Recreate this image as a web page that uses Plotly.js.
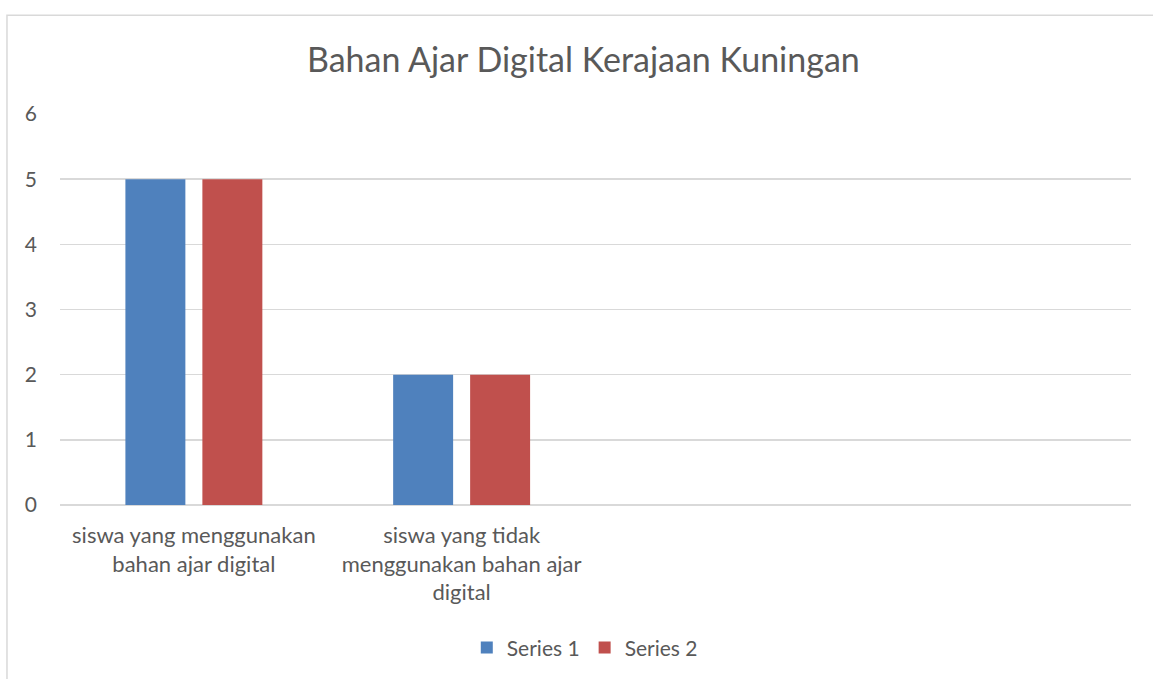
<!DOCTYPE html>
<html>
<head>
<meta charset="utf-8">
<script src="https://cdn.plot.ly/plotly-3.0.1.min.js"></script>
<style>html,body{margin:0;padding:0;background:#fff;}#chart{width:1153px;height:679px;}</style>
</head>
<body>
<div id="chart"></div>
<script>
const categories = ["siswa yang menggunakan<br>bahan ajar digital", "siswa yang tidak<br>menggunakan bahan ajar<br>digital"];
const categoryPositions = [0, 1];
const series1 = [5, 2];
const series2 = [5, 2];
const seriesNames = ["Series 1", "Series 2"];
const yTicks = [0, 1, 2, 3, 4, 5, 6];

const font = "Lato, 'Open Sans', sans-serif";
const traces = [
  {type: "bar", name: seriesNames[0], x: categoryPositions, y: series1, marker: {color: "#4f81bd"}, hoverinfo: "y"},
  {type: "bar", name: seriesNames[1], x: categoryPositions, y: series2, marker: {color: "#c0504d"}, hoverinfo: "y"}
];
const layout = {
  width: 1153, height: 679,
  margin: {l: 60, r: 22, t: 114, b: 173},
  paper_bgcolor: "#fff", plot_bgcolor: "#fff",
  font: {family: font, color: "#595959", size: 22},
  title: {text: "Bahan Ajar Digital Kerajaan Kuningan", font: {family: font, size: 34, color: "#595959"}, x: 0.506, xanchor: "center", y: 1 - 60/679, yanchor: "middle", yref: "container"},
  barmode: "group", bargap: 0.425, bargroupgap: 0.221,
  xaxis: {range: [-0.5, 3.5], tickvals: categoryPositions, ticktext: categories, showgrid: false, zeroline: false, showline: false, ticks: "", tickfont: {size: 22, color: "#595959"}, ticklabelstandoff: 15, fixedrange: true},
  yaxis: {range: [0, 6], tickvals: yTicks, showgrid: true, gridcolor: "#d9d9d9", gridwidth: 1.5, zeroline: true, zerolinecolor: "#d9d9d9", zerolinewidth: 1.5, showline: false, ticks: "", tickfont: {size: 21, color: "#595959"}, ticklabelstandoff: 22, fixedrange: true},
  legend: {orientation: "h", x: 0.49, xanchor: "center", y: -0.362, yanchor: "middle", font: {size: 21, color: "#595959"}, itemwidth: 30, traceorder: "normal"},
  showlegend: true,
  shapes: [{type: "rect", xref: "paper", yref: "paper", x0: -0.0495, x1: 1.2, y0: -0.6, y1: 1.2526, line: {color: "#d9d9d9", width: 1.5}, fillcolor: "rgba(0,0,0,0)", layer: "below"}]
};
Plotly.newPlot("chart", traces, layout, {displayModeBar: false, staticPlot: true});
</script>
</body>
</html>
